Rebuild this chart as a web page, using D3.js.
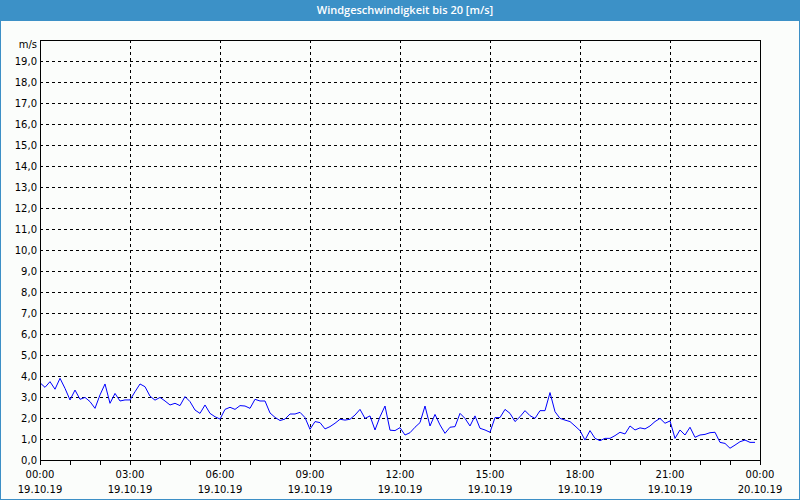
<!DOCTYPE html>
<html><head><meta charset="utf-8">
<script src="https://cdn.jsdelivr.net/npm/d3@7"></script>
<style>
html,body{margin:0;padding:0;background:#fbfdfb;}
svg{display:block;font-family:"DejaVu Sans",Verdana,sans-serif;}
</style></head><body>
<svg id="c" width="800" height="500"></svg>
<script>
const title = "Windgeschwindigkeit bis 20 [m/s]";
const unitLabel = "m/s";
const startTime = "2019-10-19T00:00:00";
const stepMinutes = 10;
const windSpeed = [
3.68,3.46,3.73,3.37,3.89,3.41,2.86,3.33,2.89,2.98,2.78,2.46,3.10,3.62,2.70,3.17,2.81,2.86,2.86,3.25,
3.62,3.49,3.04,2.85,2.98,2.81,2.62,2.70,2.59,3.02,2.78,2.38,2.22,2.62,2.22,2.06,1.95,2.41,2.51,2.41,
2.59,2.57,2.46,2.89,2.81,2.81,2.24,2.03,1.88,1.95,2.19,2.19,2.27,2.02,1.46,1.83,1.78,1.48,1.59,1.75,
1.94,1.90,1.94,2.14,2.41,1.98,2.10,1.43,2.06,2.57,1.42,1.40,1.54,1.19,1.30,1.56,1.78,2.57,1.62,2.17,
1.67,1.27,1.56,1.59,2.22,1.98,1.62,2.10,1.51,1.43,1.32,2.02,2.02,2.41,2.22,1.83,2.06,2.35,2.11,1.98,
2.35,2.35,3.21,2.30,1.98,1.90,1.83,1.62,1.40,0.95,1.40,1.03,0.92,1.03,1.03,1.16,1.32,1.24,1.62,1.43,
1.53,1.48,1.62,1.83,1.98,1.75,1.86,1.03,1.43,1.19,1.56,1.08,1.19,1.22,1.30,1.32,0.84,0.79,0.56,0.71,
0.87,0.95,0.84,0.84
];
const yTicks = d3.range(0, 20, 1);
const xTickHours = [0,3,6,9,12,15,18,21,24];

const svg = d3.select("#c");
const W = 800, H = 500;
const m = {left:40, right:40, top:40, bottom:40};

// outer window border
svg.append("rect").attr("x",0.5).attr("y",0.5).attr("width",W-1).attr("height",H-1)
  .attr("fill","#fbfdfb").attr("stroke","#3c8fc6");
// title bar
svg.append("rect").attr("x",0).attr("y",0).attr("width",W).attr("height",21).attr("fill","#3c91c7");
svg.append("text").attr("x",W/2+5).attr("y",14).attr("text-anchor","middle")
  .attr("fill","#ffffff").attr("font-family","'Open Sans',sans-serif")
  .attr("font-size","11px").attr("font-weight","600").text(title);

const t0 = new Date(startTime);
const t1 = d3.timeHour.offset(t0, 24);
const x = d3.scaleTime().domain([t0,t1]).range([m.left, W-m.right]);
const y = d3.scaleLinear().domain([0,20]).range([H-m.bottom, m.top]);

const data = windSpeed.map((v,i)=>({t:d3.timeMinute.offset(t0,i*stepMinutes), v}));

// horizontal grid
svg.append("g").selectAll("line").data(yTicks.filter(d=>d>0)).join("line")
  .attr("x1",m.left).attr("x2",W-m.right)
  .attr("y1",d=>Math.round(y(d))+0.5).attr("y2",d=>Math.round(y(d))+0.5)
  .attr("stroke","#000").attr("stroke-dasharray","3,3");
// vertical grid
const xTickDates = xTickHours.map(h=>d3.timeHour.offset(t0,h));
svg.append("g").selectAll("line").data(xTickDates.slice(1,-1)).join("line")
  .attr("x1",d=>Math.round(x(d))+0.5).attr("x2",d=>Math.round(x(d))+0.5)
  .attr("y1",m.top).attr("y2",H-m.bottom)
  .attr("stroke","#000").attr("stroke-dasharray","3,3");

// hourly minor ticks below axis
svg.append("g").selectAll("line").data(d3.range(0,25).map(h=>d3.timeHour.offset(t0,h))).join("line")
  .attr("x1",d=>Math.round(x(d))+0.5).attr("x2",d=>Math.round(x(d))+0.5)
  .attr("y1",H-m.bottom).attr("y2",H-m.bottom+5).attr("stroke","#000");

// line
const line = d3.line().x(d=>x(d.t)).y(d=>y(d.v));
svg.append("path").datum(data).attr("d",line).attr("fill","none")
  .attr("stroke","#0000ff").attr("stroke-width",1);

// frame
svg.append("rect").attr("x",m.left+0.5).attr("y",m.top+0.5)
  .attr("width",W-m.left-m.right).attr("height",H-m.top-m.bottom)
  .attr("fill","none").attr("stroke","#000");

// y labels
const fmt = d=>d.toFixed(1).replace(".",",");
svg.append("g").selectAll("text").data(yTicks).join("text")
  .attr("x",m.left-3).attr("y",d=>y(d)+4).attr("text-anchor","end")
  .attr("font-size","10px").attr("fill","#000").text(fmt);
svg.append("text").attr("x",m.left-3).attr("y",m.top+8).attr("text-anchor","end")
  .attr("font-size","10px").attr("fill","#000").text(unitLabel);

// x labels
const tf = d3.timeFormat("%H:%M"), df = d3.timeFormat("%d.%m.%y");
const xl = svg.append("g").selectAll("g").data(xTickDates).join("g");
xl.append("text").attr("x",d=>x(d)).attr("y",478).attr("text-anchor","middle")
  .attr("font-size","10px").attr("fill","#000").text(tf);
xl.append("text").attr("x",d=>x(d)).attr("y",493).attr("text-anchor","middle")
  .attr("font-size","10px").attr("fill","#000").text(df);
</script>
</body></html>
